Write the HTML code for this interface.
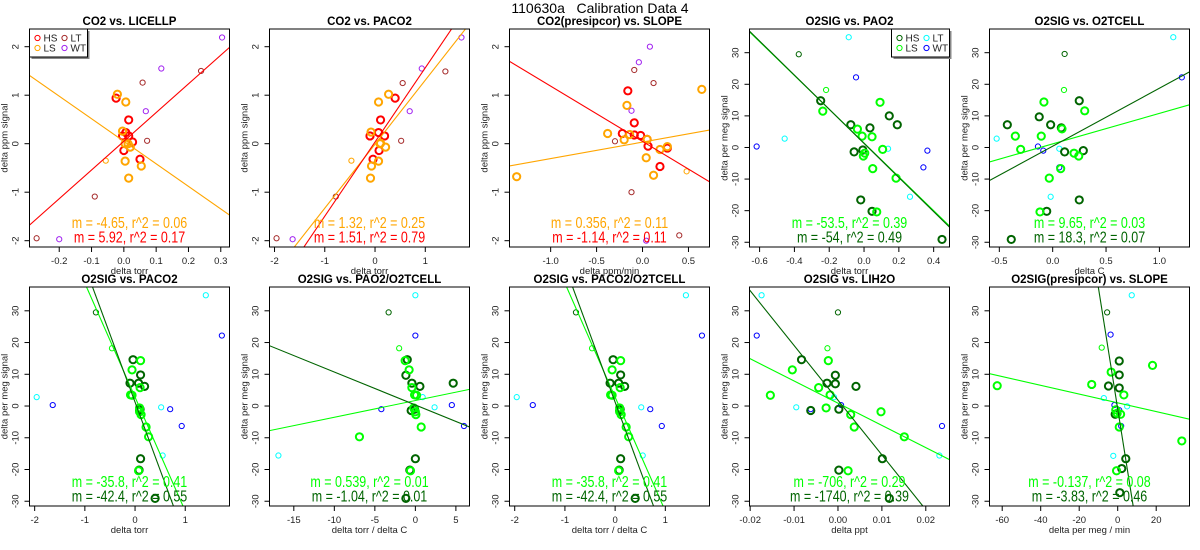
<!DOCTYPE html>
<html><head><meta charset="utf-8"><style>
html,body{margin:0;padding:0;background:#fff;overflow:hidden;width:1200px;height:550px;}
svg{display:block;font-family:"Liberation Sans",Arial,sans-serif;}
</style></head><body>
<svg id="chart" width="1200" height="550" viewBox="0 0 1200 550" xmlns="http://www.w3.org/2000/svg">
<text x="600" y="13" text-anchor="middle" font-size="14" style="white-space:pre">110630a   Calibration Data 4</text>
</svg>
<script>
// ---------- data ----------
const coYTicks=[-2,-1,0,1,2];
const o2YTicks=[-30,-20,-10,0,10,20,30];
// panel 1: CO2 vs LICELLP  [x,y,thin]
const p1_HS=[[-0.024,0.94,0],[0.015,0.49,0],[0.006,0.23,0],[0.015,0.16,0],[-0.004,0.16,0],[0.027,0.035,0],[0,-0.14,0],[0.05,-0.32,0]];
const p1_LS=[[-0.02,1.02,0],[0.006,0.86,0],[-0.004,0.26,0],[0.004,0,0],[0.013,0.0,0],[0.02,-0.07,0],[0.004,-0.36,0],[0.054,-0.46,0],[0.015,-0.71,0],[-0.056,-0.35,1]];
const p1_LT=[[-0.09,-1.09,1],[-0.27,-1.95,1],[0.058,1.26,1],[0.239,1.5,1],[0.072,0.06,1]];
const p1_WT=[[-0.2,-1.97,1],[0.116,1.55,1],[0.068,0.67,1],[0.304,2.19,1]];
const p1_slope=[-4.65,5.92], p1_icpt=[0.05,0.05];
const p1_xticks=[-0.2,-0.1,0.0,0.1,0.2,0.3];
const p1_ann=["m = -4.65, r^2 = 0.06","m = 5.92, r^2 = 0.17"];
// panel 2: CO2 vs PACO2
const p2_HS=[[0.40,0.94,0],[0.11,0.49,0],[0.07,0.23,0],[0.19,0.16,0],[-0.10,0.16,0],[0.08,-0.14,0],[-0.04,-0.32,0]];
const p2_LS=[[0.27,1.02,0],[0.07,0.86,0],[-0.08,0.24,0],[0.10,0,0],[0.11,0.01,0],[0.21,-0.07,0],[0.07,-0.36,0],[-0.07,-0.46,0],[-0.09,-0.71,0],[-0.47,-0.35,1]];
const p2_LT=[[-0.78,-1.09,1],[-1.96,-1.95,1],[0.55,1.25,1],[1.4,1.49,1],[0.52,0.06,1]];
const p2_WT=[[-1.64,-1.97,1],[0.93,1.55,1],[0.69,0.67,1],[1.72,2.19,1]];
const p2_slope=[1.32,1.53], p2_icpt=[-0.01,0.035];
const p2_xticks=[-2,-1,0,1];
const p2_ann=["m = 1.32, r^2 = 0.25","m = 1.51, r^2 = 0.79"];
// panel 3: CO2(presipcor) vs SLOPE
const p3_HS=[[-0.16,1.09,0],[-0.09,0.43,0],[-0.22,0.21,0],[-0.09,0.18,0],[-0.02,0.17,0],[0.06,-0.05,0],[0.27,-0.09,0],[0.19,-0.47,0],[0.05,0.09,0]];
const p3_LS=[[0.645,1.12,0],[-0.17,0.79,0],[-0.38,0.21,0],[-0.14,0.19,0],[-0.2,0.08,0],[0.05,0.09,0],[0.27,-0.06,0],[0.19,-0.12,0],[0.04,-0.29,0],[0.12,-0.65,0],[-1.37,-0.68,0],[0.48,-0.57,1]];
const p3_LT=[[-0.3,0.05,1],[-0.09,1.52,1],[0.12,1.25,1],[-0.12,-1.0,1],[0.4,-1.89,1]];
const p3_WT=[[0.08,2.0,1],[-0.04,1.68,1],[-0.12,0.68,1],[0.04,-2.0,1]];
const p3_slope=[0.34,-1.14], p3_icpt=[0.033,0.047];
const p3_xticks=[-1.0,-0.5,0.0,0.5];
const p3_ann=["m = 0.356, r^2 = 0.11","m = -1.14, r^2 = 0.11"];
// panel 4: O2SIG vs PAO2
const p4_HS=[[-0.249,14.8,0],[-0.076,7.2,0],[0.034,6.2,0],[0.145,10.0,0],[0.191,7.2,0],[-0.057,-1.4,0],[-0.007,-0.8,0],[-0.019,-16.6,0],[0.046,-20.2,0],[0.448,-29.1,0],[-0.375,29.5,1]];
const p4_LS=[[-0.237,11.5,0],[0.092,14.3,0],[-0.038,5.8,0],[-0.011,3.6,0],[0.046,3.4,0],[0.004,-1.8,0],[-0.004,-2.7,0],[0.107,-0.6,0],[0.05,-6.7,0],[0.184,-9.7,0],[0.073,-20.4,0],[-0.218,18.2,1]];
const p4_LT=[[-0.088,34.9,1],[-0.456,2.8,1],[0.138,-0.4,1],[0.264,-15.6,1]];
const p4_WT=[[-0.046,22.2,1],[-0.617,0.3,1],[0.341,-6.3,1],[0.364,-1.0,1]];
const p4_slope=[-53.5,-54], p4_icpt=[1.4,1.3];
const p4_xticks=[-0.6,-0.4,-0.2,0.0,0.2,0.4];
const p4_ann=["m = -53.5, r^2 = 0.39","m = -54, r^2 = 0.49"];
// panel 5: O2SIG vs O2TCELL
const p5_HS=[[-0.425,7.2,0],[-0.126,9.7,0],[-0.019,7.2,0],[0.081,6.2,0],[0.249,14.8,0],[0.112,-1.4,0],[0.287,-1.0,0],[0.249,-16.6,0],[-0.056,-20.2,0],[-0.388,-29.1,0],[0.112,29.6,1]];
const p5_LS=[[-0.082,14.4,0],[0.3,11.6,0],[-0.35,3.6,0],[-0.107,3.6,0],[0.087,5.9,0],[-0.3,-0.6,0],[0.2,-1.8,0],[0.244,-2.7,0],[0.075,-6.7,0],[-0.032,-9.7,0],[-0.119,-20.4,0],[0.106,18.2,1]];
const p5_LT=[[1.13,34.9,1],[-0.525,2.8,1],[0.062,-0.4,1],[-0.019,-15.6,1]];
const p5_WT=[[1.21,22.2,1],[-0.138,0.3,1],[0.062,-6.3,1],[-0.088,-1.0,1]];
const p5_slope=[9.66,18.35], p5_icpt=[1.14,0.4];
const p5_xticks=[-0.5,0.0,0.5,1.0];
const p5_ann=["m = 9.65, r^2 = 0.03","m = 18.3, r^2 = 0.07"];
// panel 6 & 8: O2SIG vs PACO2 (and PACO2/O2TCELL)
const p6_HS=[[-0.04,14.6,0],[0.11,9.8,0],[-0.1,7.2,0],[0.07,7.2,0],[0.19,6.2,0],[0.1,-1.0,0],[0.09,-1.4,0],[0.11,-16.6,0],[0.08,-20.2,0],[0.4,-29.1,0],[-0.78,29.5,1]];
const p6_LS=[[0.11,14.3,0],[-0.06,11.4,0],[-0.09,3.5,0],[-0.06,3.4,0],[0.1,5.8,0],[0.09,-1.8,0],[0.12,-2.7,0],[0.22,-6.6,0],[0.27,-9.7,0],[0.07,-20.4,0],[0.09,-0.6,0],[-0.46,18.2,1]];
const p6_LT=[[1.41,34.9,1],[-1.96,2.8,1],[0.52,-0.4,1],[0.55,-15.6,1]];
const p6_WT=[[1.73,22.2,1],[-1.64,0.3,1],[0.93,-6.3,1],[0.7,-1.0,1]];
const p6_slope=[-35.9,-42.8], p6_icpt=[2.8,1.23];
const p6_xticks=[-2,-1,0,1];
const p6_ann=["m = -35.8, r^2 = 0.41","m = -42.4, r^2 = 0.55"];
// panel 7: O2SIG vs PAO2/O2TCELL
const p7_HS=[[-1.0,14.6,0],[-1.17,9.7,0],[-0.43,7.2,0],[0.56,6.2,0],[4.67,7.2,0],[-0.52,-1.4,0],[-0.1,-1.0,0],[0,-16.6,0],[-0.68,-20.2,0],[-1.17,-29.1,0],[-3.3,29.5,1]];
const p7_LS=[[-1.26,14.3,0],[-0.77,11.4,0],[-0.43,5.8,0],[-0.1,3.5,0],[0.15,3.4,0],[-0.2,-0.6,0],[0,-1.8,0],[0.06,-2.7,0],[0.72,-6.6,0],[-6.9,-9.7,0],[-0.6,-20.4,0],[-2.0,18.2,1]];
const p7_LT=[[0,34.9,1],[-16.9,-15.6,1],[0.9,2.8,1],[2.37,-0.4,1]];
const p7_WT=[[0,22.2,1],[-4.2,-1.0,1],[4.5,0.3,1],[6.0,-6.3,1]];
const p7_slope=[0.527,-1.037], p7_icpt=[1.73,0.34];
const p7_xticks=[-15,-10,-5,0,5];
const p7_ann=["m = 0.539, r^2 = 0.01","m = -1.04, r^2 = 0.01"];
// panel 9: O2SIG vs LIH2O
const p9_HS=[[-0.0083,14.6,0],[-0.0006,9.7,0],[-0.0025,7.2,0],[-0.0006,7.0,0],[0.0041,6.2,0],[-0.0062,-1.4,0],[0.0002,-1.0,0],[0.0101,-16.6,0],[0.0002,-20.2,0],[0.0117,-29.1,0],[0,29.5,1]];
const p9_LS=[[-0.0022,14.3,0],[-0.0104,11.4,0],[-0.0044,5.8,0],[-0.0018,3.5,0],[-0.0154,3.4,0],[-0.0027,-0.6,0],[0.0098,-1.8,0],[0.0029,-2.7,0],[0.0037,-6.6,0],[0.0151,-9.7,0],[0.0023,-20.4,0],[-0.0024,18.2,1]];
const p9_LT=[[-0.0174,34.9,1],[0.0231,-15.6,1],[-0.0009,2.8,1],[-0.0095,-0.4,1]];
const p9_WT=[[-0.0185,22.2,1],[-0.0062,-1.0,1],[0.0007,0.3,1],[0.0237,-6.3,1]];
const p9_slope=[-700,-1725], p9_icpt=[0.9,1.84];
const p9_xticks=[-0.02,-0.01,0.00,0.01,0.02];
const p9_ann=["m = -706, r^2 = 0.29","m = -1740, r^2 = 0.39"];
// panel 10: O2SIG(presipcor) vs SLOPE
const p10_HS=[[0.8,14.2,0],[0.8,9.8,0],[-4.8,6.3,0],[0.8,5.7,0],[-1.3,-2.6,0],[4.2,-16.6,0],[2.1,-19.7,0],[1.1,-27.3,0],[-5.5,29.5,1]];
const p10_LS=[[-3.4,10.7,0],[-13.5,6.8,0],[18.1,12.8,0],[3.2,3.5,0],[-62.6,6.4,0],[33.3,-11.0,0],[-1,-1.2,0],[-0.3,-2.3,0],[1.5,-2.6,0],[0.8,-6.6,0],[-0.6,-20.4,0],[-8.3,18.4,1]];
const p10_LT=[[7.3,34.9,1],[-7.2,2.5,1],[4.9,-0.1,1],[-2.3,-15.7,1]];
const p10_WT=[[-3.7,22.5,1],[-1.7,0.3,1],[0.8,-1.3,1],[1.8,-6.3,1]];
const p10_slope=[-0.138,-3.81], p10_icpt=[1.0,-0.9];
const p10_xticks=[-60,-40,-20,0,20];
const p10_ann=["m = -0.137, r^2 = 0.08","m = -3.83, r^2 = 0.46"];

// ---------- rendering ----------
const NS="http://www.w3.org/2000/svg";
const svg=document.getElementById('chart');
const CO2C={HS:'#ff0000',LS:'#ffa500',LT:'#a52a2a',WT:'#a020f0'};
const O2C={HS:'#006400',LS:'#00ff00',LT:'#00ffff',WT:'#0000ff'};
function mk(tag,attrs,parent){const e=document.createElementNS(NS,tag);for(const k in attrs)e.setAttribute(k,attrs[k]);(parent||svg).appendChild(e);return e;}
function fmt(v,dec){return v.toFixed(dec);}
function squeeze(el,f){const w=el.getComputedTextLength();if(w>0){el.setAttribute('textLength',(w*f).toFixed(1));el.setAttribute('lengthAdjust','spacingAndGlyphs');}}

const panels=[
 {id:1,L:29.5,T:29,H:218,xd:[-0.292,0.327],yd:[-2.13,2.365],title:'CO2 vs. LICELLP',xlab:'delta torr',ylab:'delta ppm signal',HS:p1_HS,LS:p1_LS,LT:p1_LT,WT:p1_WT,sl:p1_slope,ic:p1_icpt,xt:p1_xticks,dec:1,yt:coYTicks,ann:p1_ann,c:CO2C,leg:'left'},
 {id:2,L:269.5,T:29,H:218,xd:[-2.10,1.88],yd:[-2.13,2.365],title:'CO2 vs. PACO2',xlab:'delta torr',ylab:'delta ppm signal',HS:p2_HS,LS:p2_LS,LT:p2_LT,WT:p2_WT,sl:p2_slope,ic:p2_icpt,xt:p2_xticks,dec:0,yt:coYTicks,ann:p2_ann,c:CO2C},
 {id:3,L:509.5,T:29,H:218,xd:[-1.448,0.729],yd:[-2.13,2.365],title:'CO2(presipcor) vs. SLOPE',xlab:'delta ppm/min',ylab:'delta ppm signal',HS:p3_HS,LS:p3_LS,LT:p3_LT,WT:p3_WT,sl:p3_slope,ic:p3_icpt,xt:p3_xticks,dec:1,yt:coYTicks,ann:p3_ann,c:CO2C},
 {id:4,L:749.5,T:29,H:218,xd:[-0.658,0.491],yd:[-31.5,37.5],title:'O2SIG vs. PAO2',xlab:'delta torr',ylab:'delta per meg signal',HS:p4_HS,LS:p4_LS,LT:p4_LT,WT:p4_WT,sl:p4_slope,ic:p4_icpt,xt:p4_xticks,dec:1,yt:o2YTicks,ann:p4_ann,c:O2C,leg:'right'},
 {id:5,L:989.5,T:29,H:218,xd:[-0.592,1.282],yd:[-31.5,37.5],title:'O2SIG vs. O2TCELL',xlab:'delta C',ylab:'delta per meg signal',HS:p5_HS,LS:p5_LS,LT:p5_LT,WT:p5_WT,sl:p5_slope,ic:p5_icpt,xt:p5_xticks,dec:1,yt:o2YTicks,ann:p5_ann,c:O2C},
 {id:6,L:29.5,T:287,H:219,xd:[-2.103,1.882],yd:[-31.5,37.5],title:'O2SIG vs. PACO2',xlab:'delta torr',ylab:'delta per meg signal',HS:p6_HS,LS:p6_LS,LT:p6_LT,WT:p6_WT,sl:p6_slope,ic:p6_icpt,xt:p6_xticks,dec:0,yt:o2YTicks,ann:p6_ann,c:O2C},
 {id:7,L:269.5,T:287,H:219,xd:[-18.0,6.68],yd:[-31.5,37.5],title:'O2SIG vs. PAO2/O2TCELL',xlab:'delta torr / delta C',ylab:'delta per meg signal',HS:p7_HS,LS:p7_LS,LT:p7_LT,WT:p7_WT,sl:p7_slope,ic:p7_icpt,xt:p7_xticks,dec:0,yt:o2YTicks,ann:p7_ann,c:O2C},
 {id:8,L:509.5,T:287,H:219,xd:[-2.104,1.88],yd:[-31.5,37.5],title:'O2SIG vs. PACO2/O2TCELL',xlab:'delta torr / delta C',ylab:'delta per meg signal',HS:p6_HS,LS:p6_LS,LT:p6_LT,WT:p6_WT,sl:p6_slope,ic:p6_icpt,xt:p6_xticks,dec:0,yt:o2YTicks,ann:p6_ann,c:O2C},
 {id:9,L:749.5,T:287,H:219,xd:[-0.02015,0.0254],yd:[-31.5,37.5],title:'O2SIG vs. LIH2O',xlab:'delta ppt',ylab:'delta per meg signal',HS:p9_HS,LS:p9_LS,LT:p9_LT,WT:p9_WT,sl:p9_slope,ic:p9_icpt,xt:p9_xticks,dec:2,yt:o2YTicks,ann:p9_ann,c:O2C},
 {id:10,L:989.5,T:287,H:219,xd:[-66.6,37.3],yd:[-31.5,37.5],title:'O2SIG(presipcor) vs. SLOPE',xlab:'delta per meg / min',ylab:'delta per meg signal',HS:p10_HS,LS:p10_LS,LT:p10_LT,WT:p10_WT,sl:p10_slope,ic:p10_icpt,xt:p10_xticks,dec:0,yt:o2YTicks,ann:p10_ann,c:O2C}
];

panels.forEach(p=>{
  const W=200;
  const sx=x=>p.L+(x-p.xd[0])/(p.xd[1]-p.xd[0])*W;
  const sy=y=>p.T+(p.yd[1]-y)/(p.yd[1]-p.yd[0])*p.H;
  const g=mk('g',{});
  
  
  const cp=mk('clipPath',{id:'clip'+p.id},g);
  mk('rect',{x:p.L,y:p.T,width:W,height:p.H},cp);
  const t=mk('text',{x:p.L+W/2,y:p.T-4,'text-anchor':'middle','font-size':'11.5','font-weight':'bold'},g);
  t.textContent=p.title;
  
  
  const bot=p.T+p.H;
  mk('line',{x1:sx(p.xt[0]),x2:sx(p.xt[p.xt.length-1]),y1:bot,y2:bot,stroke:'#000','stroke-width':1},g);
  p.xt.forEach(v=>{
    const X=sx(v);
    mk('line',{x1:X,x2:X,y1:bot,y2:bot+5,stroke:'#000'},g);
    const tl=mk('text',{x:X,y:bot+17,'text-anchor':'middle','font-size':'9.5',fill:'#222'},g);
    tl.textContent=fmt(v,p.dec);
    
    
  });
  p.yt.forEach(v=>{
    const Y=sy(v);
    mk('line',{x1:p.L-5,x2:p.L,y1:Y,y2:Y,stroke:'#000'},g);
    const tl=mk('text',{x:p.L-11,y:Y,'text-anchor':'middle','font-size':'9.5',fill:'#222',transform:`rotate(-90 ${p.L-11} ${Y})`},g);
    tl.textContent=String(v);
    
    
  });
  const xl=mk('text',{x:p.L+W/2,y:bot+27,'text-anchor':'middle','font-size':'9.5',fill:'#222'},g);
  xl.textContent=p.xlab;
  
  
  const yc=p.T+p.H/2;
  const yl=mk('text',{x:p.L-22,y:yc,'text-anchor':'middle','font-size':'9.5',fill:'#222',transform:`rotate(-90 ${p.L-22} ${yc})`},g);
  yl.textContent=p.ylab;
  
  
  const pg=mk('g',{'clip-path':`url(#clip${p.id})`},g);
  ['LT','WT','HS','LS'].forEach(grp=>{
    p[grp].forEach(d=>{
      const thin=d[2]===1;
      const c=mk('circle',{cx:sx(d[0]),cy:sy(d[1]),r:thin?2.6:3.6,fill:'none',stroke:p.c[grp],'stroke-width':thin?1:2},pg);
      
      
    });
  });
  const lc=[p.c.LS,p.c.HS];
  p.sl.forEach((m,i)=>{
    const b=p.ic[i];
    const ln=mk('line',{x1:sx(p.xd[0]),y1:sy(m*p.xd[0]+b),x2:sx(p.xd[1]),y2:sy(m*p.xd[1]+b),stroke:lc[i],'stroke-width':1.1},pg);
    
    
  });
  p.ann.forEach((s,i)=>{
    const a=mk('text',{x:p.L+W/2,y:bot-19+i*14.5,'text-anchor':'middle','font-size':'16',fill:lc[i]},g);
    a.textContent=s;
    
    
    squeeze(a,0.78);
  });
  const bx=mk('rect',{x:p.L,y:p.T,width:W,height:p.H,fill:'none',stroke:'#000','stroke-width':1},g);
  
  
  if(p.leg){
    const lx=p.leg==='left'?p.L:p.L+W-58;
    const lg=mk('g',{},g);
    
    
    mk('rect',{x:lx+2,y:p.T+2,width:58,height:28,fill:'#888'},lg);
    mk('rect',{x:lx,y:p.T,width:58,height:28,fill:'#fff',stroke:'#000'},lg);
    [['HS',0,0],['LS',0,1],['LT',1,0],['WT',1,1]].forEach(e=>{
      const ex=lx+8+e[1]*27, ey=p.T+9+e[2]*10;
      const it=mk('g',{},lg);
      
      
      mk('circle',{cx:ex,cy:ey,r:2.6,fill:'none',stroke:p.c[e[0]],'stroke-width':1},it);
      const tx=mk('text',{x:ex+6,y:ey+3.5,'font-size':'10',fill:'#222'},it);
      tx.textContent=e[0];
    });
  }
});
</script>
</body></html>
